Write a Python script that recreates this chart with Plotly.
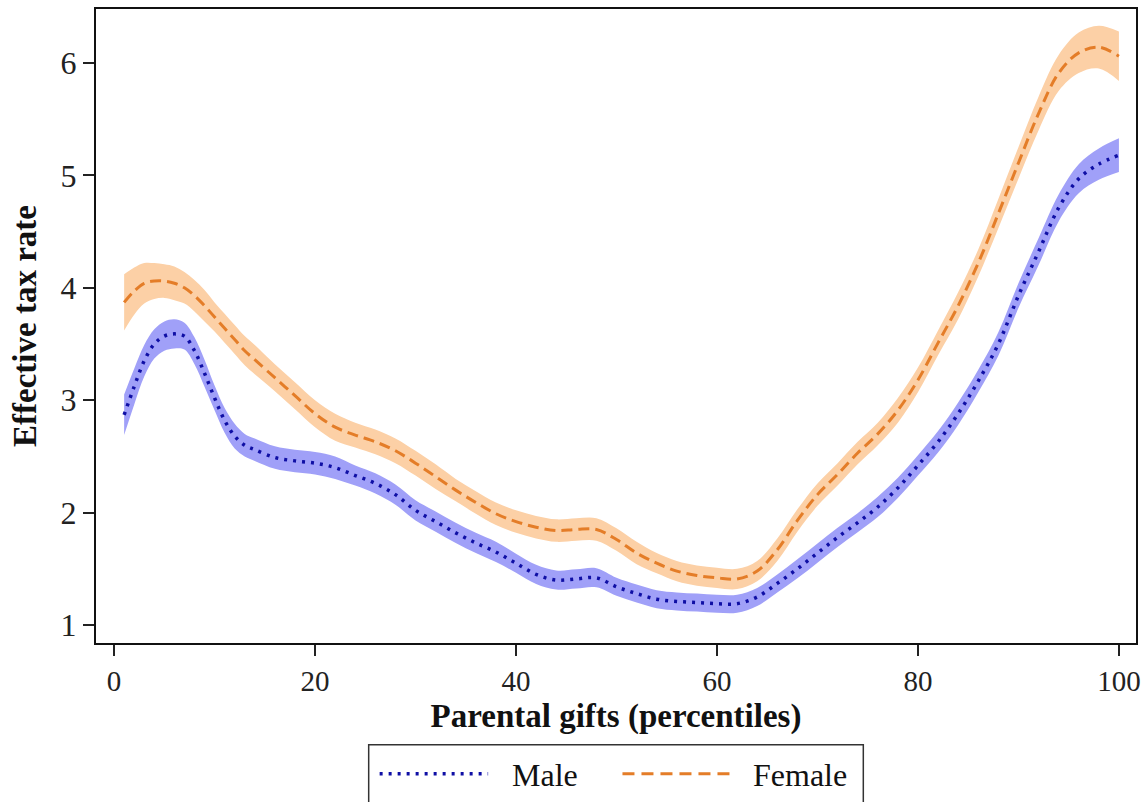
import plotly.graph_objects as go

# Parental gift percentiles at which the smoothed estimates are reported
pct = [1, 2, 3, 4, 5, 6, 7, 8, 9, 10, 11, 12, 13, 14, 16, 18, 20, 22, 24, 26,
       28, 30, 32, 34, 36, 38, 40, 42, 44, 46, 48, 50, 52, 54, 56, 58, 60, 62,
       64, 66, 68, 70, 72, 74, 76, 78, 80, 82, 84, 86, 88, 90, 92, 94, 96, 98, 100]

# Effective tax rate, men
male = [2.87, 3.12, 3.35, 3.50, 3.57, 3.59, 3.57, 3.44, 3.24, 3.02, 2.82, 2.68,
        2.60, 2.56, 2.49, 2.46, 2.44, 2.40, 2.33, 2.26, 2.16, 2.02, 1.92, 1.82,
        1.73, 1.65, 1.55, 1.45, 1.40, 1.41, 1.42, 1.34, 1.28, 1.23, 1.21, 1.20,
        1.19, 1.19, 1.25, 1.37, 1.50, 1.64, 1.78, 1.91, 2.05, 2.22, 2.42, 2.63,
        2.88, 3.17, 3.50, 3.93, 4.32, 4.71, 4.97, 5.10, 5.18]

# Effective tax rate, women
female = [3.87, 3.97, 4.04, 4.06, 4.06, 4.04, 4.00, 3.93, 3.84, 3.74, 3.64, 3.54,
          3.44, 3.36, 3.20, 3.04, 2.88, 2.76, 2.69, 2.63, 2.55, 2.44, 2.32, 2.20,
          2.09, 1.99, 1.92, 1.87, 1.84, 1.85, 1.85, 1.76, 1.64, 1.55, 1.48, 1.44,
          1.42, 1.41, 1.48, 1.67, 1.93, 2.16, 2.34, 2.53, 2.70, 2.91, 3.18, 3.51,
          3.84, 4.22, 4.66, 5.11, 5.55, 5.91, 6.09, 6.14, 6.06]

# Half-width of the 95% confidence bands
male_ci = [0.18, 0.16, 0.14, 0.13, 0.13, 0.13, 0.12, 0.12, 0.12, 0.11, 0.11, 0.11,
           0.10, 0.10, 0.10, 0.10, 0.10, 0.10, 0.09, 0.09, 0.09, 0.09, 0.09, 0.09,
           0.09, 0.09, 0.085, 0.085, 0.085, 0.085, 0.085, 0.08, 0.08, 0.08, 0.08,
           0.08, 0.08, 0.08, 0.08, 0.08, 0.085, 0.085, 0.085, 0.085, 0.09, 0.09,
           0.09, 0.095, 0.10, 0.10, 0.105, 0.11, 0.12, 0.12, 0.13, 0.14, 0.15]
female_ci = [0.25, 0.21, 0.18, 0.16, 0.15, 0.15, 0.14, 0.14, 0.14, 0.13, 0.13, 0.13,
             0.13, 0.13, 0.12, 0.12, 0.12, 0.12, 0.11, 0.11, 0.11, 0.11, 0.11, 0.10,
             0.10, 0.10, 0.10, 0.10, 0.10, 0.10, 0.10, 0.10, 0.10, 0.09, 0.09, 0.09,
             0.09, 0.09, 0.09, 0.10, 0.10, 0.10, 0.10, 0.10, 0.10, 0.11, 0.11, 0.11,
             0.12, 0.12, 0.13, 0.14, 0.15, 0.16, 0.18, 0.19, 0.22]

x_ticks = [0, 20, 40, 60, 80, 100]
y_ticks = [1, 2, 3, 4, 5, 6]

MALE_LINE = "rgb(15,15,165)"
MALE_BAND = "rgb(160,160,248)"
FEMALE_LINE = "rgb(228,125,40)"
FEMALE_BAND = "rgb(252,208,166)"
SERIF = "Liberation Serif, Times New Roman, serif"

fig = go.Figure()


def add_band(values, half, color):
    lo = [v - h for v, h in zip(values, half)]
    hi = [v + h for v, h in zip(values, half)]
    fig.add_trace(go.Scatter(x=pct, y=lo, mode="lines", line=dict(width=0, shape="spline"),
                             showlegend=False, hoverinfo="skip"))
    fig.add_trace(go.Scatter(x=pct, y=hi, mode="lines", line=dict(width=0, shape="spline"),
                             fill="tonexty", fillcolor=color, showlegend=False,
                             hoverinfo="skip"))


add_band(female, female_ci, FEMALE_BAND)
add_band(male, male_ci, MALE_BAND)

fig.add_trace(go.Scatter(x=pct, y=male, mode="lines", name="Male",
                         line=dict(color=MALE_LINE, width=3.5, dash="3px,6px",
                                   shape="spline"), showlegend=False))
fig.add_trace(go.Scatter(x=pct, y=female, mode="lines", name="Female",
                         line=dict(color=FEMALE_LINE, width=3, dash="11px,6px",
                                   shape="spline"), showlegend=False))

# Legend box drawn below the plot area
L, R, T, B = 96, 1141, 8, 643
W, H = R - L, B - T


def px_x(p):
    return (p - L) / W


def px_y(p):
    return (B - p) / H


shapes = [
    dict(type="rect", xref="paper", yref="paper", x0=px_x(370), x1=px_x(867),
         y0=px_y(745), y1=px_y(815), line=dict(color="#333", width=1.5),
         fillcolor="white", layer="above"),
    dict(type="line", xref="paper", yref="paper", x0=px_x(381), x1=px_x(490),
         y0=px_y(774), y1=px_y(774), line=dict(color=MALE_LINE, width=3.5, dash="3px,6px")),
    dict(type="line", xref="paper", yref="paper", x0=px_x(625), x1=px_x(738),
         y0=px_y(774), y1=px_y(774), line=dict(color=FEMALE_LINE, width=3, dash="12px,7px")),
]
annotations = [
    dict(text="Male", xref="paper", yref="paper", x=px_x(512), y=px_y(775),
         xanchor="left", yanchor="middle", showarrow=False,
         font=dict(family=SERIF, size=32, color="#111")),
    dict(text="Female", xref="paper", yref="paper", x=px_x(754), y=px_y(775),
         xanchor="left", yanchor="middle", showarrow=False,
         font=dict(family=SERIF, size=32, color="#111")),
]

fig.update_layout(
    width=1148, height=802,
    margin=dict(l=L, r=1148 - R, t=T, b=802 - B),
    paper_bgcolor="white", plot_bgcolor="white",
    showlegend=False,
    shapes=shapes, annotations=annotations,
)
fig.update_xaxes(
    range=[-1.8, 101.7], tickvals=x_ticks, ticks="outside", ticklen=11, tickwidth=1.5,
    tickcolor="#222", showgrid=False, zeroline=False, showline=True, linewidth=2,
    linecolor="#111", mirror=True,
    tickfont=dict(family=SERIF, size=29, color="#222"),
    title=dict(text="<b>Parental gifts (percentiles)</b>", standoff=8,
               font=dict(family=SERIF, size=33, color="#111")),
)
fig.update_yaxes(
    range=[0.84, 6.48], tickvals=y_ticks, ticks="outside", ticklen=11, tickwidth=1.5,
    tickcolor="#222", showgrid=False, zeroline=False, showline=True, linewidth=2,
    linecolor="#111", mirror=True,
    tickfont=dict(family=SERIF, size=32, color="#222"),
    title=dict(text="<b>Effective tax rate</b>", standoff=14,
               font=dict(family=SERIF, size=33, color="#111")),
)

fig.write_html("out.html")
